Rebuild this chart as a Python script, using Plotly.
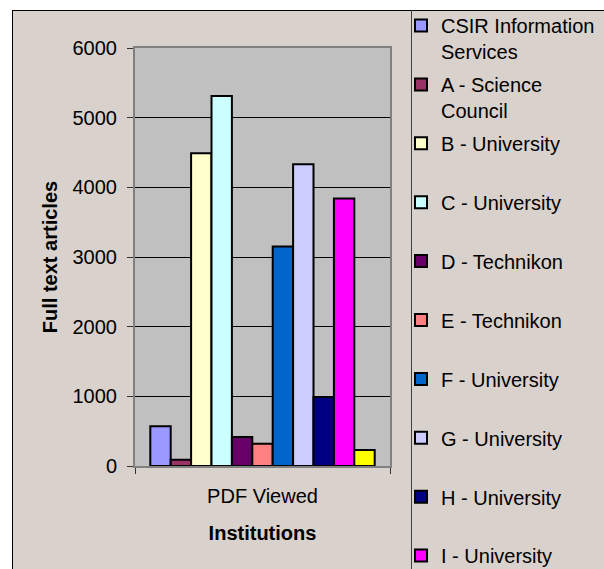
import plotly.graph_objects as go

# ---- data -------------------------------------------------------------
categories = ["PDF Viewed"]
institutions = [
    "CSIR Information<br>Services",
    "A - Science<br>Council",
    "B - University",
    "C - University",
    "D - Technikon",
    "E - Technikon",
    "F - University",
    "G - University",
    "H - University",
    "I - University",
    "J - University",
]
full_text_articles = [570, 90, 4490, 5310, 415, 320, 3150, 4330, 990, 3840, 230]
bar_colors = [
    "#9999FF", "#993366", "#FFFFCC", "#CCFFFF", "#660066", "#FF8080",
    "#0066CC", "#CCCCFF", "#000080", "#FF00FF", "#FFFF00",
]
y_ticks = [0, 1000, 2000, 3000, 4000, 5000, 6000]

# ---- page geometry (pixels) ------------------------------------------
W, H = 604, 569
M_L, M_R, M_T, M_B = 135, 214, 48, 103
PW, PH = W - M_L - M_R, H - M_T - M_B

FONT = "Liberation Sans, Arial, Helvetica, sans-serif"
CHART_BG = "#D9D1CB"


def px_x(px):
    return (px - M_L) / PW


def px_y(py):
    return (H - M_B - py) / PH


fig = go.Figure()
for i, (name, val, col) in enumerate(zip(institutions, full_text_articles, bar_colors)):
    # every legend entry occupies a two-line slot
    label = name if "<br>" in name else name + "<br> "
    fig.add_trace(go.Bar(
        x=categories, y=[val], name=label, legendgroup=f"g{i}",
        marker=dict(color=col, line=dict(color="black", width=2)),
    ))

shapes = [
    # white page margin above and left of the chart frame
    dict(type="rect", xref="paper", yref="paper", x0=px_x(-5), x1=px_x(W + 5),
         y0=px_y(10), y1=px_y(-5), fillcolor="white", line=dict(width=0), layer="above"),
    dict(type="rect", xref="paper", yref="paper", x0=px_x(-5), x1=px_x(12),
         y0=px_y(H + 5), y1=px_y(-5), fillcolor="white", line=dict(width=0), layer="above"),
    # chart frame
    dict(type="line", xref="paper", yref="paper", x0=px_x(12), x1=px_x(W + 5),
         y0=px_y(10.5), y1=px_y(10.5), line=dict(color="black", width=1), layer="above"),
    dict(type="line", xref="paper", yref="paper", x0=px_x(12.5), x1=px_x(12.5),
         y0=px_y(10), y1=px_y(H + 5), line=dict(color="black", width=1), layer="above"),
    # legend box edge
    dict(type="line", xref="paper", yref="paper", x0=px_x(411.5), x1=px_x(411.5),
         y0=px_y(10), y1=px_y(H + 5), line=dict(color="#404040", width=1), layer="above"),
]

fig.update_layout(
    width=W, height=H,
    margin=dict(l=M_L, r=M_R, t=M_T, b=M_B, pad=0, autoexpand=False),
    paper_bgcolor=CHART_BG,
    plot_bgcolor="#C0C0C0",
    font=dict(family=FONT, size=20, color="black"),
    barmode="group", bargap=0.12, bargroupgap=0,
    showlegend=True,
    legend=dict(
        x=px_x(401), y=px_y(6), xanchor="left", yanchor="top",
        bgcolor="rgba(0,0,0,0)", borderwidth=0,
        font=dict(family=FONT, size=20, color="black"),
        traceorder="grouped", tracegroupgap=3.9, valign="top",
        itemwidth=30, maxheight=2000,
    ),
    shapes=shapes,
    xaxis=dict(
        type="category", range=[-0.5, 0.5], tickson="boundaries",
        ticks="outside", ticklen=6, tickcolor="#333333", tickwidth=1,
        showline=True, linecolor="#808080", linewidth=2, mirror=True,
        showgrid=False, ticklabelstandoff=11,
        tickfont=dict(family=FONT, size=20, color="black"),
        title=dict(text="Institutions", standoff=20,
                   font=dict(family=FONT, size=20, color="black", weight="bold")),
    ),
    yaxis=dict(
        range=[0, 6000], tickvals=y_ticks, ticktext=[str(v) for v in y_ticks],
        ticks="outside", ticklen=6, tickcolor="#333333", tickwidth=1,
        showline=True, linecolor="#808080", linewidth=2, mirror=True,
        showgrid=True, gridcolor="black", gridwidth=1, zeroline=False,
        ticklabelstandoff=6,
        tickfont=dict(family=FONT, size=20, color="black"),
        title=dict(text="Full text articles", standoff=10,
                   font=dict(family=FONT, size=20, color="black", weight="bold")),
    ),
)

fig.write_html("out.html")
